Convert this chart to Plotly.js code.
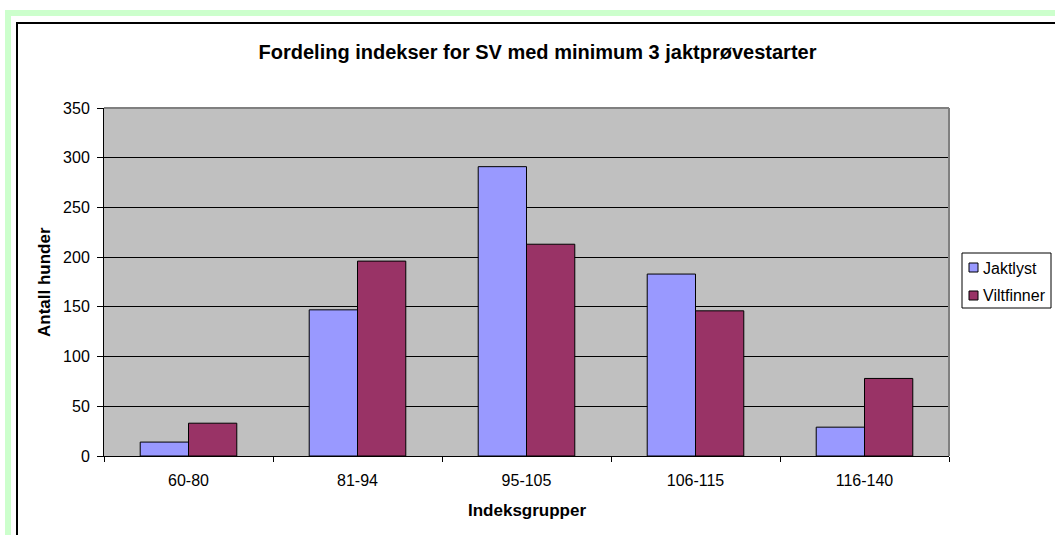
<!DOCTYPE html>
<html>
<head>
<meta charset="utf-8">
<script src="https://cdn.plot.ly/plotly-3.0.1.min.js"></script>
<style>
  html, body { margin: 0; padding: 0; background: #ffffff; }
  #wrap { position: relative; width: 1055px; height: 535px; overflow: hidden; }
  #chart { position: absolute; left: 0; top: 0; width: 1055px; height: 535px; }
  .deco { position: absolute; pointer-events: none; }
</style>
</head>
<body>
<div id="wrap">
  <div id="chart"></div>
  <div class="deco" style="left:5px; top:10px; width:1050px; height:6px; background:#CCFFCC;"></div>
  <div class="deco" style="left:5px; top:10px; width:6px; height:525px; background:#CCFFCC;"></div>
  <div class="deco" style="left:16px; top:22px; width:1039px; height:2px; background:#000000;"></div>
  <div class="deco" style="left:16px; top:22px; width:2px; height:513px; background:#000000;"></div>
</div>
<script>
// ---- data ----
const categories = ['60-80', '81-94', '95-105', '106-115', '116-140'];
const jaktlyst   = [14, 147, 291, 183, 29];
const viltfinner = [33, 196, 213, 146, 78];
const seriesNames = ['Jaktlyst', 'Viltfinner'];
const yTicks = [0, 50, 100, 150, 200, 250, 300, 350];

const titleText = 'Fordeling indekser for SV med minimum 3 jaktprøvestarter';
const xTitleText = 'Indeksgrupper';
const yTitleText = 'Antall hunder';

// ---- layout geometry ----
const W = 1055, H = 535;
const M = { l: 104, r: 106, t: 108, b: 79 };
const PW = W - M.l - M.r, PH = H - M.t - M.b;
const px = x => (x - M.l) / PW;          // pixel -> paper x
const py = y => (H - M.b - y) / PH;      // pixel -> paper y

const colors = ['#9999FF', '#993366'];
const FONT = 'Liberation Sans, Arial, Helvetica, sans-serif';

const traces = [
  { type: 'bar', name: seriesNames[0], x: categories, y: jaktlyst,
    marker: { color: colors[0], line: { color: '#000000', width: 1 } }, hoverinfo: 'x+y+name' },
  { type: 'bar', name: seriesNames[1], x: categories, y: viltfinner,
    marker: { color: colors[1], line: { color: '#000000', width: 1 } }, hoverinfo: 'x+y+name' }
];

// custom legend (box, swatches, labels)
const legBox = { x0: 962, x1: 1051, y0: 253, y1: 308 };
const legItems = [
  { sy0: 263, sy1: 272, ty: 268 },
  { sy0: 291, sy1: 300, ty: 295 }
];
const shapes = [
  // plot area border (top & right, grey)
  { type: 'line', xref: 'paper', yref: 'paper', x0: 0, x1: 1, y0: 1, y1: 1,
    line: { color: '#808080', width: 2 }, layer: 'above' },
  { type: 'line', xref: 'paper', yref: 'paper', x0: 1, x1: 1, y0: 0, y1: 1,
    line: { color: '#808080', width: 2 }, layer: 'above' },
  // legend box
  { type: 'rect', xref: 'paper', yref: 'paper',
    x0: px(legBox.x0), x1: px(legBox.x1), y0: py(legBox.y1), y1: py(legBox.y0),
    fillcolor: '#FFFFFF', line: { color: '#000000', width: 1 }, layer: 'above' }
];
const annotations = [];
legItems.forEach((it, i) => {
  shapes.push({ type: 'rect', xref: 'paper', yref: 'paper',
    x0: px(969), x1: px(978), y0: py(it.sy1), y1: py(it.sy0),
    fillcolor: colors[i], line: { color: '#000000', width: 1 }, layer: 'above' });
  annotations.push({ xref: 'paper', yref: 'paper', x: px(981), y: py(it.ty),
    xanchor: 'left', yanchor: 'middle', showarrow: false, text: seriesNames[i],
    font: { family: FONT, size: 16, color: '#000000' } });
});
// axis titles
annotations.push({ xref: 'paper', yref: 'paper', x: px(526.5), y: py(510),
  xanchor: 'center', yanchor: 'middle', showarrow: false, text: '<b>' + xTitleText + '</b>',
  font: { family: FONT, size: 17, color: '#000000' } });
annotations.push({ xref: 'paper', yref: 'paper', x: px(44), y: py(282),
  xanchor: 'center', yanchor: 'middle', showarrow: false, textangle: -90, text: '<b>' + yTitleText + '</b>',
  font: { family: FONT, size: 17, color: '#000000' } });

const layout = {
  width: W, height: H,
  margin: M,
  paper_bgcolor: 'rgba(0,0,0,0)',
  plot_bgcolor: '#C0C0C0',
  font: { family: FONT, size: 16, color: '#000000' },
  title: { text: '<b>' + titleText + '</b>', font: { family: FONT, size: 20, color: '#000000' },
    x: 537.5 / W, xref: 'container', xanchor: 'center', y: 1 - 52 / H, yref: 'container', yanchor: 'middle' },
  showlegend: false,
  barmode: 'group', bargap: 1.5 / 3.5, bargroupgap: 0,
  xaxis: { type: 'category', showline: true, linecolor: '#000000', linewidth: 1,
    ticks: 'outside', tickson: 'boundaries', ticklen: 5, tickcolor: '#000000', tickwidth: 1,
    ticklabelstandoff: 10,
    showgrid: false, zeroline: false, tickfont: { family: FONT, size: 16, color: '#000000' },
    fixedrange: true },
  yaxis: { range: [0, 350], tickvals: yTicks, ticktext: yTicks.map(String),
    showline: true, linecolor: '#000000', linewidth: 1,
    ticks: 'outside', ticklen: 6, tickcolor: '#000000', tickwidth: 1,
    ticklabelstandoff: 4,
    showgrid: true, gridcolor: '#000000', gridwidth: 1, zeroline: false,
    tickfont: { family: FONT, size: 16, color: '#000000' }, fixedrange: true },
  shapes: shapes,
  annotations: annotations
};

Plotly.newPlot('chart', traces, layout, { displayModeBar: false, staticPlot: true });
</script>
</body>
</html>
